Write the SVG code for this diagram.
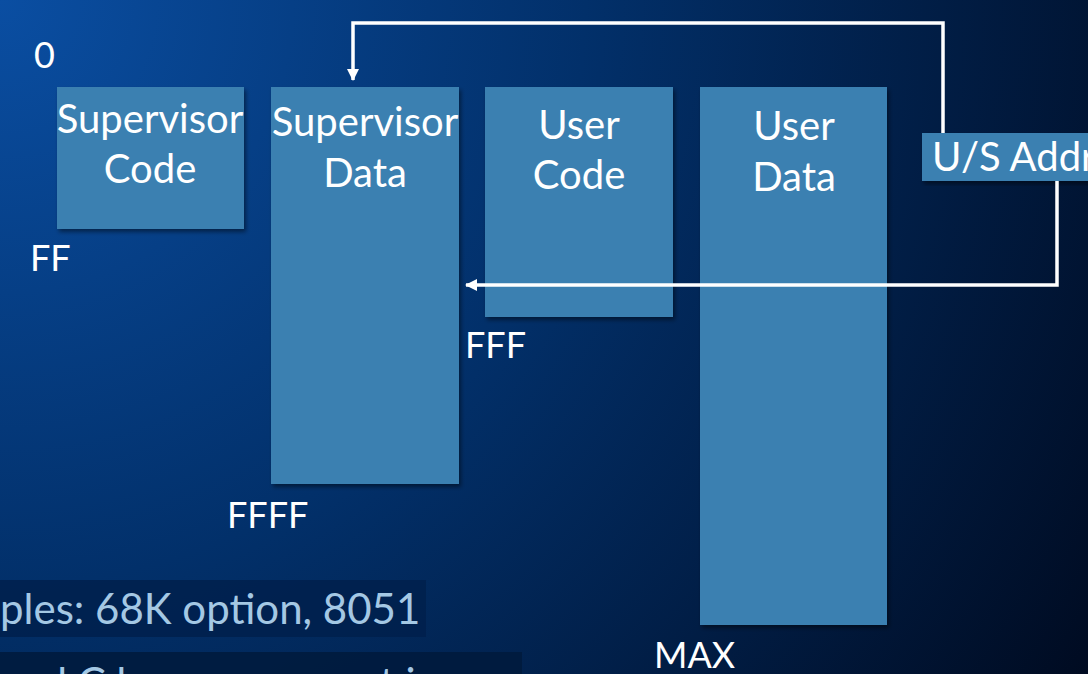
<svg xmlns="http://www.w3.org/2000/svg" width="1088" height="674" viewBox="0 0 1088 674">
<defs>
<radialGradient id="bg" cx="0" cy="0" r="1300" gradientUnits="userSpaceOnUse">
<stop offset="0" stop-color="#0a4ea2"/>
<stop offset="0.45" stop-color="#02306a"/>
<stop offset="1" stop-color="#000a1f"/>
</radialGradient>
<filter id="sh" x="-5%" y="-5%" width="115%" height="115%">
<feDropShadow dx="2" dy="3" stdDeviation="2" flood-color="#000" flood-opacity="0.45"/>
</filter>
<marker id="arr" viewBox="0 0 12 12" refX="11" refY="6" markerWidth="12" markerHeight="12" markerUnits="userSpaceOnUse" orient="auto">
<path d="M0,0 L12,6 L0,12 z" fill="#ffffff"/>
</marker>
<style>
.box{fill:#3a80b1;filter:url(#sh)}
.t{font-family:Lato,"Noto Sans","DejaVu Sans",sans-serif;fill:#ffffff;font-size:40px}
.c{text-anchor:middle}
.lbl{font-family:Lato,"Noto Sans","DejaVu Sans",sans-serif;fill:#ffffff;font-size:36px}
.bul{font-family:Lato,"Noto Sans","DejaVu Sans",sans-serif;fill:#a4c8e4;font-size:42px}
.wire{fill:none;stroke:#ffffff;stroke-width:3.5}
</style>
</defs>
<rect x="0" y="0" width="1088" height="674" fill="url(#bg)"/>

<g id="bullet1">
<rect x="0" y="580" width="426" height="57" fill="#00204c" opacity="0.85"/>
<text class="bul" x="0" y="624">ples: 68K option, 8051</text>
</g>
<g id="bullet2">
<rect x="0" y="652" width="522" height="30" fill="#001a3c" opacity="0.85"/>
<text class="bul" x="20" y="698">nd C has no concept in</text>
</g>

<g id="supervisor-code">
<rect class="box" x="57" y="87" width="187" height="142"/>
<text class="t c" x="150" y="133">Supervisor</text>
<text class="t c" x="150" y="183">Code</text>
</g>
<g id="supervisor-data">
<rect class="box" x="271" y="87" width="188" height="397"/>
<text class="t c" x="365" y="136">Supervisor</text>
<text class="t c" x="365" y="187">Data</text>
</g>
<g id="user-code">
<rect class="box" x="485" y="87" width="188" height="230"/>
<text class="t c" x="579" y="139">User</text>
<text class="t c" x="579" y="189">Code</text>
</g>
<g id="user-data">
<rect class="box" x="700" y="87" width="187" height="538"/>
<text class="t c" x="794" y="140">User</text>
<text class="t c" x="794" y="191">Data</text>
</g>
<g id="us-addr">
<rect class="box" x="922" y="133" width="170" height="48"/>
<text class="t" x="932" y="171" font-size="38">U/S Addr</text>
</g>

<g id="labels">
<text class="lbl" x="34" y="68">0</text>
<text class="lbl" x="30" y="271">FF</text>
<text class="lbl" x="465" y="358">FFF</text>
<text class="lbl" x="227" y="528">FFFF</text>
<text class="lbl" x="654" y="668">MAX</text>
</g>

<g id="connectors">
<path class="wire" d="M943,133 L943,23 L353,23 L353,80" marker-end="url(#arr)"/>
<path class="wire" d="M1057,181 L1057,285 L466,285" marker-end="url(#arr)"/>
</g>
</svg>
